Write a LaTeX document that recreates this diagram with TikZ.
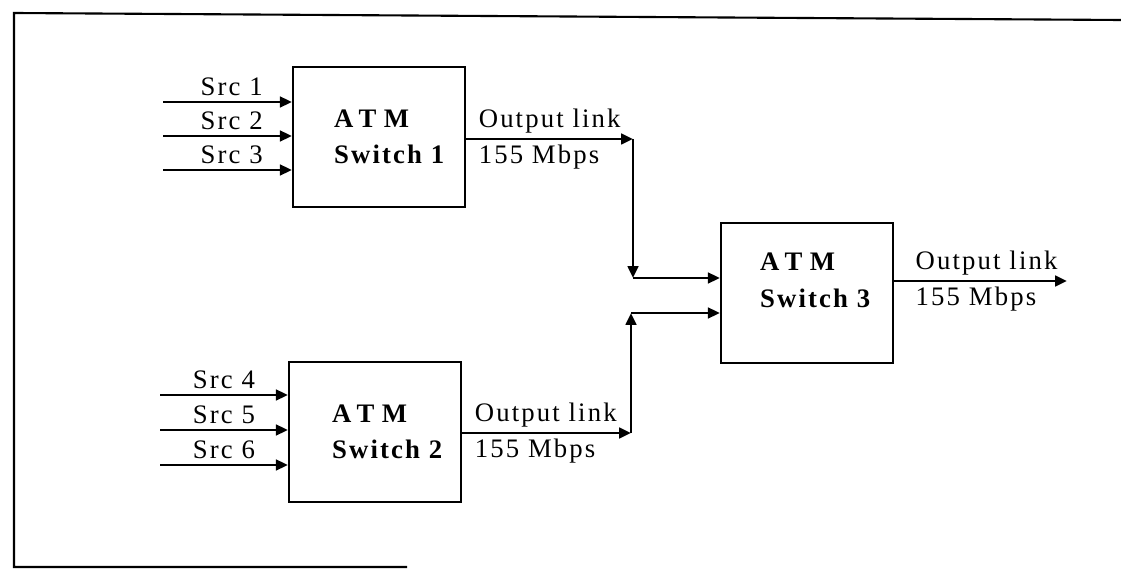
\documentclass[tikz,border=0pt]{standalone}
\usepackage{fontspec}
\setmainfont{Liberation Serif}[LetterSpace=8]
\usetikzlibrary{arrows.meta,positioning,calc}
\newcommand{\atmtext}{{\addfontfeature{LetterSpace=27}ATM}}

\begin{document}
\begin{tikzpicture}[
  x=0.025cm, y=-0.025cm,
  font=\fontsize{19}{22}\selectfont,
  swbox/.style={draw, line width=1.5pt, minimum width=4.3cm, minimum height=3.5cm},
  swtext/.style={align=left, inner sep=0pt, font=\fontsize{19}{26}\selectfont\bfseries},
  link/.style={->, line width=2pt},
  >={Triangle[length=8.5pt,width=7.5pt]}
]
\useasboundingbox (0,0) rectangle (1121,570);
% frame
\draw[line width=1.5pt] (1121,20) -- (14,13) -- (14,567) -- (407,567);

% switches
\node[swbox] (sw1) at (379,137) {};
\node[swbox] (sw2) at (375,432) {};
\node[swbox] (sw3) at (807,293) {};
\node[swtext, anchor=west] (t1) at ([xshift=1.05cm]sw1.west) {\atmtext\\Switch 1};
\node[swtext, anchor=west] (t2) at ([xshift=1.1cm]sw2.west) {\atmtext\\Switch 2};
\node[swtext, anchor=west] (t3) at ([xshift=1.0cm,yshift=0.32cm]sw3.west) {\atmtext\\Switch 3};

% sources
\foreach \i/\y in {1/102,2/136,3/170} {
  \coordinate (s\i) at (163,\y);
  \draw[link] (s\i) -- (s\i -| sw1.west) node[midway, above, xshift=3pt] {Src \i};
}
\foreach \i/\y in {4/395,5/430,6/465} {
  \coordinate (s\i) at (160,\y);
  \draw[link] (s\i) -- (s\i -| sw2.west) node[midway, above] {Src \i};
}

% output links
\coordinate (k1) at (633,139);
\coordinate (j1) at (633,278);
\draw[link] (k1 -| sw1.east) -- (k1)
  node[pos=0.04, anchor=south west] {Output link}
  node[pos=0.04, anchor=north west] {155 Mbps};
\draw[link] (k1) -- (j1);
\draw[link] (j1) -- (j1 -| sw3.west);

\coordinate (k2) at (631,433);
\coordinate (j2) at (631,313);
\draw[link] (k2 -| sw2.east) -- (k2)
  node[pos=0.04, anchor=south west] {Output link}
  node[pos=0.04, anchor=north west] {155 Mbps};
\draw[link] (k2) -- (j2);
\draw[link] (j2) -- (j2 -| sw3.west);

\coordinate (k3) at (1067,281);
\draw[link] (k3 -| sw3.east) -- (k3)
  node[pos=0.09, anchor=south west] {Output link}
  node[pos=0.09, anchor=north west] {155 Mbps};
\end{tikzpicture}
\end{document}
